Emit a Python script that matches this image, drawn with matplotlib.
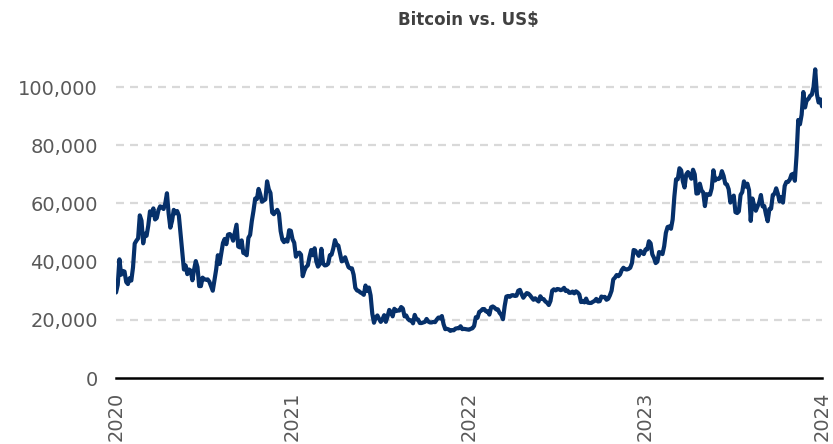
import numpy as np
import matplotlib
matplotlib.use("Agg")
import matplotlib.pyplot as plt
from matplotlib.ticker import FuncFormatter

# Bitcoin price in US$ thousands, sampled roughly twice a week (104 samples per year)
btc_year1 = [
    29.4, 32.0, 40.8, 35.5, 36.8, 36.6, 33.0, 32.3, 34.3, 33.5,
    38.0, 46.2, 47.2, 48.0, 55.9, 54.1, 46.3, 49.6, 48.9, 52.4,
    57.3, 56.0, 58.3, 54.5, 55.0, 57.7, 59.0, 58.7, 58.1, 60.0,
    63.5, 56.5, 51.7, 54.0, 57.8, 56.6, 57.4, 55.9, 49.7, 43.5,
    37.3, 38.7, 35.7, 37.3, 36.9, 33.6, 37.3, 40.2, 38.1, 31.6,
    31.6, 34.5, 33.9, 33.8, 33.9, 33.1, 31.5, 30.0, 33.6, 37.3,
    42.2, 39.2, 42.8, 46.4, 47.8, 46.0, 49.3, 49.5, 48.9, 47.2,
    50.0, 52.7, 45.2, 44.9, 47.3, 43.0, 42.8, 42.2, 48.2, 49.2,
    53.9, 57.5, 61.7, 61.5, 65.0, 63.1, 60.6, 61.0, 61.4, 67.6,
    64.9, 63.6, 56.9, 56.3, 57.1, 57.8, 56.5, 50.5, 47.6, 46.7,
    47.6, 46.9, 50.8, 50.6,
]
btc_year2 = [
    47.7, 46.5, 41.7, 42.7, 43.1, 42.4, 35.0, 36.9, 38.2, 38.7,
    41.6, 44.0, 42.2, 44.6, 40.1, 38.3, 39.1, 44.4, 39.4, 38.7,
    38.8, 39.3, 42.2, 42.4, 44.5, 47.4, 45.8, 45.5, 42.8, 40.1,
    40.4, 41.5, 39.7, 38.1, 37.7, 37.7, 35.5, 31.0, 30.1, 29.9,
    29.4, 29.1, 28.6, 31.8, 29.9, 31.1, 28.4, 22.1, 19.0, 20.7,
    21.5, 20.3, 19.3, 20.2, 21.6, 19.3, 21.2, 23.4, 22.7, 21.2,
    23.8, 23.0, 23.2, 23.2, 24.4, 23.9, 21.2, 21.5, 20.3, 19.8,
    19.8, 18.8, 21.7, 20.2, 20.1, 18.9, 18.9, 19.1, 19.3, 20.3,
    19.4, 19.1, 19.1, 19.3, 19.2, 20.1, 20.8, 20.5, 21.3, 18.5,
    16.8, 16.9, 16.7, 16.2, 16.5, 16.4, 17.0, 17.1, 17.1, 17.8,
    16.8, 16.9, 16.8, 16.7,
]
btc_year3 = [
    16.6, 16.9, 17.1, 17.9, 20.9, 20.7, 22.7, 23.1, 23.7, 23.7,
    22.9, 22.9, 21.8, 24.3, 24.6, 24.2, 23.6, 23.6, 22.4, 21.7,
    20.2, 24.7, 28.0, 28.2, 27.9, 28.4, 28.5, 28.2, 28.3, 30.0,
    30.3, 28.8, 27.6, 28.4, 29.2, 29.0, 28.4, 27.6, 26.9, 27.4,
    26.8, 26.3, 28.1, 27.2, 27.1, 26.3, 25.9, 25.1, 26.5, 30.0,
    30.5, 30.1, 30.6, 30.5, 30.2, 30.4, 31.0, 29.9, 30.1, 29.3,
    29.3, 29.7, 29.1, 29.8, 29.4, 28.7, 26.1, 26.4, 26.0, 27.3,
    25.9, 25.8, 25.8, 26.2, 26.5, 27.2, 26.3, 26.4, 28.0, 27.8,
    27.9, 26.9, 27.2, 28.4, 30.0, 33.9, 34.5, 35.4, 35.0, 35.6,
    37.1, 37.9, 37.4, 37.3, 37.5, 37.9, 39.5, 44.0, 43.8, 42.9,
    42.0, 43.7, 43.0, 42.6,
]
btc_year4 = [
    44.2, 44.2, 47.0, 46.3, 42.5, 41.3, 39.5, 40.0, 43.3, 43.1,
    42.6, 45.3, 49.9, 51.9, 52.1, 51.3, 54.5, 62.4, 68.3, 68.3,
    72.1, 71.4, 67.6, 65.5, 70.0, 70.8, 69.7, 68.5, 71.6, 70.0,
    63.4, 63.5, 66.8, 64.5, 63.8, 59.1, 63.2, 63.0, 63.0, 65.2,
    71.4, 67.9, 68.5, 68.4, 68.8, 71.1, 69.5, 66.8, 66.5, 64.9,
    60.3, 61.6, 62.7, 57.0, 56.7, 57.3, 62.9, 63.9, 67.6, 65.8,
    66.8, 64.6, 54.0, 61.7, 59.4, 57.5, 59.0, 60.4, 62.9, 59.0,
    59.1, 56.2, 53.9, 58.1, 58.2, 62.9, 63.3, 65.2, 63.3, 60.7,
    62.2, 60.3, 66.0, 67.4, 67.4, 68.2, 69.9, 70.2, 67.8, 76.5,
    88.7, 87.2, 90.5, 98.3, 93.0, 95.6, 95.9, 97.0, 97.4, 100.0,
    106.1, 97.5, 94.7, 95.8, 93.4,
]

year_labels = ["2020", "2021", "2022", "2023", "2024"]
y_ticks = [0, 20000, 40000, 60000, 80000, 100000]

prices = np.array(btc_year1 + btc_year2 + btc_year3 + btc_year4) * 1000.0
x_start, x_end = int(year_labels[0]), int(year_labels[-1])
x = np.linspace(x_start, x_end, len(prices))

fig = plt.figure(figsize=(8.33, 4.44), dpi=100)
ax = fig.add_axes([0.1393, 0.1486, 0.8475, 0.7208])

ax.plot(x, prices, color="#06306a", linewidth=3.0, solid_joinstyle="round",
        solid_capstyle="round", zorder=3)

ax.set_xlim(x_start, x_end)
ax.set_ylim(0, 110000)
ax.set_yticks(y_ticks)
ax.yaxis.set_major_formatter(FuncFormatter(lambda v, p: f"{int(v):,}"))
ax.set_xticks([int(y) for y in year_labels])
ax.set_xticklabels(year_labels, rotation=90, va="top", ha="center")

for v in y_ticks[1:]:
    ax.axhline(v, color="#d9d9d9", linewidth=1.6, dashes=(3.6, 2.7), zorder=1)

for side in ("top", "right", "left"):
    ax.spines[side].set_visible(False)
ax.spines["bottom"].set_color("#000000")
ax.spines["bottom"].set_linewidth(1.8)
ax.spines["bottom"].set_zorder(4)

ax.tick_params(axis="y", length=0, pad=13, labelsize=14, labelcolor="#595959")
ax.tick_params(axis="x", length=0, pad=10, labelsize=14, labelcolor="#595959")
for lbl in ax.get_xticklabels() + ax.get_yticklabels():
    lbl.set_fontfamily(["DejaVu Sans"])

fig.text(0.562, 0.955, "Bitcoin vs. US$", ha="center", va="center",
         fontsize=12, fontweight="bold", color="#404040",
         family=["Liberation Sans Narrow", "DejaVu Sans"])

fig.savefig("out.png", dpi=100)
